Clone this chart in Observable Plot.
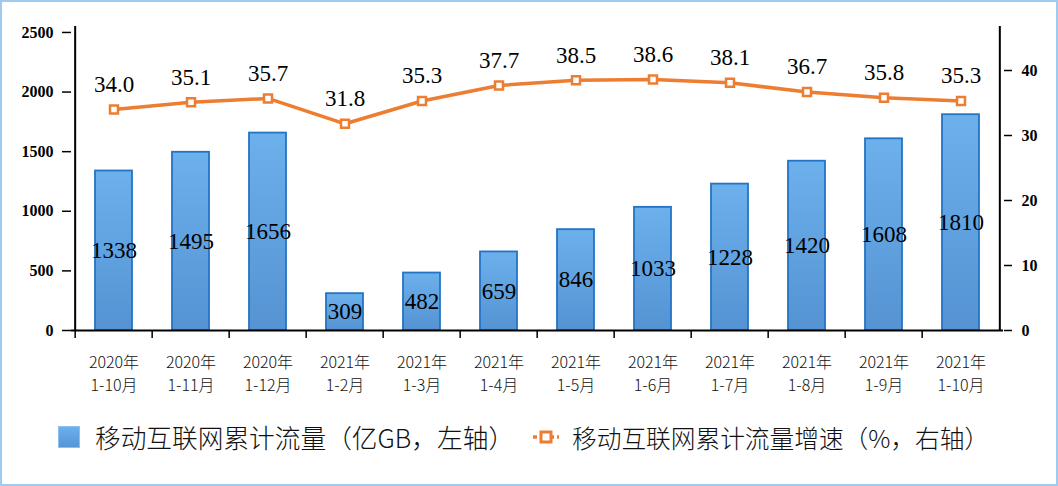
<!DOCTYPE html>
<html><head><meta charset="utf-8">
<script src="https://cdn.jsdelivr.net/npm/d3@7"></script>
<script src="https://cdn.jsdelivr.net/npm/@observablehq/plot@0.6"></script>
<style>
body{margin:0;background:#fff;}
#wrap{position:relative;width:1058px;height:486px;overflow:hidden;background:#fff;}
#border{position:absolute;left:0;top:0;width:1058px;height:486px;box-sizing:border-box;border:2px solid #9fcbf0;pointer-events:none;}
#chart{position:absolute;left:0;top:0;}
.lg{position:absolute;font-family:"Noto Sans CJK SC",sans-serif;line-height:26px;color:#111;white-space:nowrap;font-weight:300;}
#sw1{position:absolute;left:58px;top:426px;width:22px;height:22px;background:linear-gradient(#6cb0ec,#5595d5);box-sizing:border-box;border:1px solid #8cc0ee;}
#sw2{position:absolute;left:532px;top:428px;}
</style>
</head><body>
<div id="wrap">
  <div id="chart"></div>
  <div id="sw1"></div>
  <div class="lg" id="t1" style="left:95px;top:424px;font-size:25.7px;">移动互联网累计流量（亿GB，左轴）</div>
  <svg id="sw2" width="28" height="18"><line x1="1" x2="27" y1="9" y2="9" stroke="#ed7d31" stroke-width="3.5" stroke-dasharray="4 3 14 3 4"/><rect x="9" y="4" width="10" height="10" fill="#fff" stroke="#ed7d31" stroke-width="3"/></svg>
  <div class="lg" id="t2" style="left:572px;top:424px;font-size:24.7px;">移动互联网累计流量增速（%，右轴）</div>
  <div id="border"></div>
</div>
<script>
const years = ["2020年","2020年","2020年","2021年","2021年","2021年","2021年","2021年","2021年","2021年","2021年","2021年"];
const periods = ["1-10月","1-11月","1-12月","1-2月","1-3月","1-4月","1-5月","1-6月","1-7月","1-8月","1-9月","1-10月"];
const flow = [1338,1495,1656,309,482,659,846,1033,1228,1420,1608,1810];
const growth = [34.0,35.1,35.7,31.8,35.3,37.7,38.5,38.6,38.1,36.7,35.8,35.3];
const leftTicks = [0,500,1000,1500,2000,2500];
const rightTicks = [0,10,20,30,40];

const cats = years.map((y,i) => y + "\n" + periods[i]);
const data = cats.map((c,i) => ({cat:c, flow:flow[i], growth:growth[i]}));

const W = 1058, H = 400, mL = 71, mR = 55, mT = 18, mB = 70;
const leftMax = 2617, rightMax = 48;
const k = leftMax / rightMax;
const step = (W - mL - mR) / cats.length;
const serif = "'Liberation Serif','Times New Roman',serif";
const cjk = "'Noto Sans CJK SC',sans-serif";

const chart = Plot.plot({
  width: W, height: H,
  marginLeft: mL, marginRight: mR, marginTop: mT, marginBottom: mB,
  style: {background:"transparent", color:"#000"},
  x: {domain: cats, paddingInner: 0.52, paddingOuter: 0.26, axis: null},
  y: {domain: [0, leftMax], axis: null},
  marks: [
    Plot.barY(data, {x:"cat", y:"flow", fill:"url(#barGrad)", stroke:"#2474c4", strokeWidth:1.8}),
    Plot.text(data, {x:"cat", y: d => d.flow/2, text: d => String(d.flow), fontSize:23, fontFamily:serif, fill:"#000"}),
    Plot.ruleY([0], {stroke:"#000", strokeWidth:2}),
    Plot.ruleX(cats, {x: d => d, y1:0, y2:0, dx:-step/2, insetBottom:-8, stroke:"#000", strokeWidth:1.5}),
    Plot.ruleX([cats[0]], {x: d => d, y1:0, y2:leftMax, dx:-step/2, insetBottom:-8, stroke:"#000", strokeWidth:2}),
    Plot.ruleX([cats[cats.length-1]], {x: d => d, y1:0, y2:leftMax, dx:step/2, insetBottom:-8, stroke:"#000", strokeWidth:2}),
    Plot.axisY(leftTicks, {anchor:"left", tickSize:9, tickPadding:9, tickFormat: d => String(d), fontSize:16, fontWeight:"bold", fontFamily:serif, label:null, stroke:"#000", strokeWidth:1.5}),
    Plot.axisY(rightTicks.map(t => t*k), {anchor:"right", tickSize:8, tickPadding:10, tickFormat: d => String(Math.round(d/k)), fontSize:16, fontWeight:"bold", fontFamily:serif, label:null, stroke:"#000", strokeWidth:1.5}),
    Plot.axisX({anchor:"bottom", tickSize:0, tickPadding:22, fontSize:16, fontWeight:300, fontFamily:cjk, lineHeight:1.4, label:null, fill:"#111"}),
    Plot.line(data, {x:"cat", y: d => d.growth*k, stroke:"#ed7d31", strokeWidth:3.5}),
    Plot.dot(data, {x:"cat", y: d => d.growth*k, symbol:"square", r:4.5, stroke:"#ed7d31", strokeWidth:2.5, fill:"#fff"}),
    Plot.text(data, {x:"cat", y: d => d.growth*k, dy:-25, text: d => d.growth.toFixed(1), fontSize:23, fontFamily:serif, fill:"#000"})
  ]
});

const ns = "http://www.w3.org/2000/svg";
const defs = document.createElementNS(ns, "defs");
defs.innerHTML = '<linearGradient id="barGrad" x1="0" y1="0" x2="0" y2="1"><stop offset="0" stop-color="#6cb0ec"/><stop offset="1" stop-color="#5593d3"/></linearGradient>';
chart.insertBefore(defs, chart.firstChild);
document.getElementById("chart").appendChild(chart);
</script>
</body></html>
